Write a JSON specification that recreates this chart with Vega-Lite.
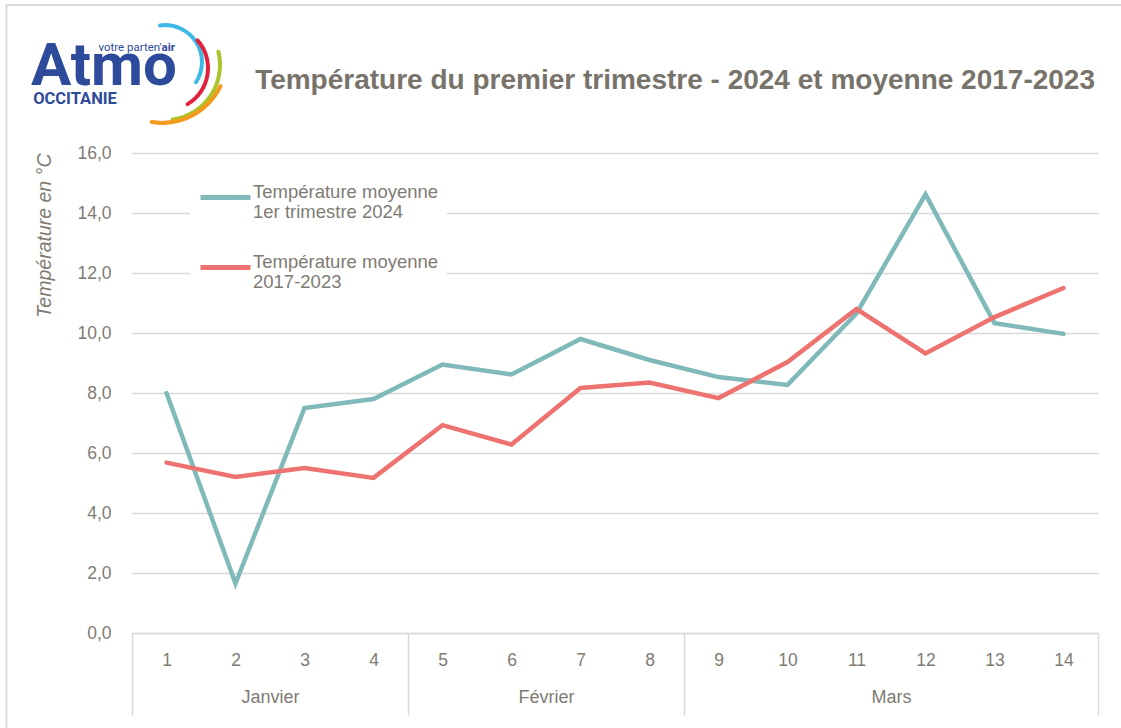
{
  "$schema": "https://vega.github.io/schema/vega-lite/v6.json",
  "width": 966,
  "height": 480,
  "autosize": {"type": "none"},
  "padding": {"left": 132, "top": 153, "right": 23, "bottom": 95},
  "background": "white",
  "config": {"view": {"stroke": null}, "font": "Liberation Sans"},
  "title": {
    "text": "Température du premier trimestre - 2024 et moyenne 2017-2023",
    "anchor": "end",
    "frame": "group",
    "font": "Liberation Sans",
    "fontSize": 28,
    "fontWeight": "bold",
    "color": "#78736A",
    "offset": 0,
    "dy": 91,
    "dx": -3
  },
  "layer": [
    {
      "data": {"values": [{"cadre": "bordure", "x1": -1.32, "x2": 16.5, "y1": 20.93, "y2": -6}]},
      "mark": {"type": "rect", "fill": null, "stroke": "#DCDAD6", "strokeWidth": 2},
      "encoding": {
        "x": {"field": "x1", "type": "quantitative", "axis": null},
        "x2": {"field": "x2"},
        "y": {"field": "y1", "type": "quantitative", "axis": null},
        "y2": {"field": "y2"}
      }
    },
    {
      "data": {"values": [
        {"semaine": 1, "serie": "2024", "temp": 8.0},
        {"semaine": 2, "serie": "2024", "temp": 1.65},
        {"semaine": 3, "serie": "2024", "temp": 7.5},
        {"semaine": 4, "serie": "2024", "temp": 7.8},
        {"semaine": 5, "serie": "2024", "temp": 8.95},
        {"semaine": 6, "serie": "2024", "temp": 8.62},
        {"semaine": 7, "serie": "2024", "temp": 9.8},
        {"semaine": 8, "serie": "2024", "temp": 9.1},
        {"semaine": 9, "serie": "2024", "temp": 8.53},
        {"semaine": 10, "serie": "2024", "temp": 8.27},
        {"semaine": 11, "serie": "2024", "temp": 10.65},
        {"semaine": 12, "serie": "2024", "temp": 14.62},
        {"semaine": 13, "serie": "2024", "temp": 10.33},
        {"semaine": 14, "serie": "2024", "temp": 9.97},
        {"semaine": 1, "serie": "2017-2023", "temp": 5.68},
        {"semaine": 2, "serie": "2017-2023", "temp": 5.2},
        {"semaine": 3, "serie": "2017-2023", "temp": 5.5},
        {"semaine": 4, "serie": "2017-2023", "temp": 5.17},
        {"semaine": 5, "serie": "2017-2023", "temp": 6.93},
        {"semaine": 6, "serie": "2017-2023", "temp": 6.28},
        {"semaine": 7, "serie": "2017-2023", "temp": 8.17},
        {"semaine": 8, "serie": "2017-2023", "temp": 8.35},
        {"semaine": 9, "serie": "2017-2023", "temp": 7.83},
        {"semaine": 10, "serie": "2017-2023", "temp": 9.03},
        {"semaine": 11, "serie": "2017-2023", "temp": 10.8},
        {"semaine": 12, "serie": "2017-2023", "temp": 9.32},
        {"semaine": 13, "serie": "2017-2023", "temp": 10.53},
        {"semaine": 14, "serie": "2017-2023", "temp": 11.5}
      ]},
      "mark": {"type": "line", "strokeWidth": 4.5, "strokeCap": "round", "strokeJoin": "miter"},
      "encoding": {
        "x": {
          "field": "semaine", "type": "quantitative",
          "scale": {"domain": [0.5, 14.5], "nice": false, "zero": false},
          "axis": {
            "orient": "bottom",
            "title": null,
            "values": [1, 2, 3, 4, 5, 6, 7, 8, 9, 10, 11, 12, 13, 14],
            "format": "d",
            "ticks": false, "tickSize": 0,
            "grid": false,
            "domainColor": "#D9D9D9", "domainWidth": 1.5,
            "labelFontSize": 17.5, "labelColor": "#7F7B74",
            "labelPadding": 18, "labelFlush": false
          }
        },
        "y": {
          "field": "temp", "type": "quantitative",
          "scale": {"domain": [0, 16], "nice": false},
          "axis": {
            "values": [0, 2, 4, 6, 8, 10, 12, 14, 16],
            "labelExpr": "replace(format(datum.value, '.1f'), '.', ',')",
            "grid": true, "gridColor": "#D9D9D9", "gridWidth": 1.5,
            "domain": false, "ticks": false, "tickSize": 0,
            "labelFontSize": 17.5, "labelColor": "#7F7B74", "labelPadding": 21,
            "title": "Température en °C",
            "titleFontStyle": "italic", "titleFontWeight": "normal",
            "titleFontSize": 19.5, "titleColor": "#7F7B74",
            "titleAnchor": "end", "titlePadding": 22
          }
        },
        "color": {
          "field": "serie", "type": "nominal",
          "scale": {"domain": ["2024", "2017-2023"], "range": ["#7FB9B9", "#EE7370"]},
          "legend": {
            "orient": "none", "legendX": 58, "legendY": 9,
            "direction": "vertical", "title": null,
            "symbolType": "stroke", "symbolStrokeWidth": 5, "symbolSize": 2500,
            "labelExpr": "datum.label == '2024' ? ['Température moyenne', '1er trimestre 2024'] : ['Température moyenne', '2017-2023']",
            "labelFontSize": 18.5, "labelColor": "#7F7B74", "labelLimit": 400,
            "labelBaseline": "alphabetic", "labelOffset": 0,
            "fillColor": "white", "padding": 8, "rowPadding": 18
          }
        }
      }
    },
    {
      "data": {"values": [{"texte": "Atmo", "px": 0.094, "py": 18.27}]},
      "mark": {"type": "text", "font": "Roboto", "fontWeight": "bold", "fontSize": 60, "color": "#2E4B9B", "align": "center", "baseline": "alphabetic"},
      "encoding": {
        "x": {"field": "px", "type": "quantitative", "axis": {
          "orient": "bottom",
          "title": null, "values": [0.5, 4.5, 8.5, 14.5], "labels": false, "grid": false, "domain": false,
          "ticks": true, "tickSize": 82, "tickColor": "#D9D9D9", "tickWidth": 1.5
        }},
        "y": {"field": "py", "type": "quantitative", "axis": null},
        "text": {"field": "texte"}
      }
    },
    {
      "data": {"values": [{"texte": "OCCITANIE", "px": -0.326, "py": 17.65}]},
      "mark": {"type": "text", "font": "Roboto", "fontWeight": "bold", "fontSize": 16.5, "color": "#2E4B9B", "align": "center", "baseline": "alphabetic"},
      "encoding": {
        "x": {"field": "px", "type": "quantitative", "axis": {
          "orient": "bottom",
          "title": null, "values": [2.5, 6.5, 11.5],
          "labelExpr": "datum.value == 2.5 ? 'Janvier' : datum.value == 6.5 ? 'Février' : 'Mars'",
          "grid": false, "domain": false, "ticks": false, "tickSize": 0,
          "labelFontSize": 18, "labelColor": "#7F7B74",
          "labelPadding": 55
        }},
        "y": {"field": "py", "type": "quantitative", "axis": null},
        "text": {"field": "texte"}
      }
    },
    {
      "data": {"values": [{"texte": "votre parten'", "px": 0.928, "py": 19.4}]},
      "mark": {"type": "text", "font": "Roboto", "fontSize": 11.5, "color": "#2E4B9B", "align": "right", "baseline": "alphabetic"},
      "encoding": {
        "x": {"field": "px", "type": "quantitative", "axis": null},
        "y": {"field": "py", "type": "quantitative", "axis": null},
        "text": {"field": "texte"}
      }
    },
    {
      "data": {"values": [{"texte": "air", "px": 0.928, "py": 19.4}]},
      "mark": {"type": "text", "font": "Roboto", "fontWeight": "bold", "fontSize": 11.5, "color": "#2E4B9B", "align": "left", "baseline": "alphabetic"},
      "encoding": {
        "x": {"field": "px", "type": "quantitative", "axis": null},
        "y": {"field": "py", "type": "quantitative", "axis": null},
        "text": {"field": "texte"}
      }
    },
    {
      "data": {"values": [{"arc": "cyan", "px": 0.978, "py": 19.03}]},
      "mark": {"type": "arc", "color": "#3DB9E6", "radius": 39, "radius2": 35, "theta": -0.19, "theta2": 2.2, "cornerRadius": 2},
      "encoding": {
        "x": {"field": "px", "type": "quantitative", "axis": null},
        "y": {"field": "py", "type": "quantitative", "axis": null}
      }
    },
    {
      "data": {"values": [{"arc": "rouge", "px": 0.993, "py": 18.83}]},
      "mark": {"type": "arc", "color": "#E2213F", "radius": 44, "radius2": 40, "theta": 0.8, "theta2": 2.65, "cornerRadius": 2},
      "encoding": {
        "x": {"field": "px", "type": "quantitative", "axis": null},
        "y": {"field": "py", "type": "quantitative", "axis": null}
      }
    },
    {
      "data": {"values": [{"arc": "vert", "px": 0.978, "py": 18.93}]},
      "mark": {"type": "arc", "color": "#A9C52C", "radius": 57, "radius2": 53, "theta": 1.29, "theta2": 3.04, "cornerRadius": 2},
      "encoding": {
        "x": {"field": "px", "type": "quantitative", "axis": null},
        "y": {"field": "py", "type": "quantitative", "axis": null}
      }
    },
    {
      "data": {"values": [{"arc": "orange", "px": 0.935, "py": 19.17}]},
      "mark": {"type": "arc", "color": "#F39A1F", "radius": 67, "radius2": 63, "theta": 1.99, "theta2": 3.33, "cornerRadius": 2},
      "encoding": {
        "x": {"field": "px", "type": "quantitative", "axis": null},
        "y": {"field": "py", "type": "quantitative", "axis": null}
      }
    }
  ],
  "resolve": {"axis": {"x": "independent", "y": "independent"}}
}
